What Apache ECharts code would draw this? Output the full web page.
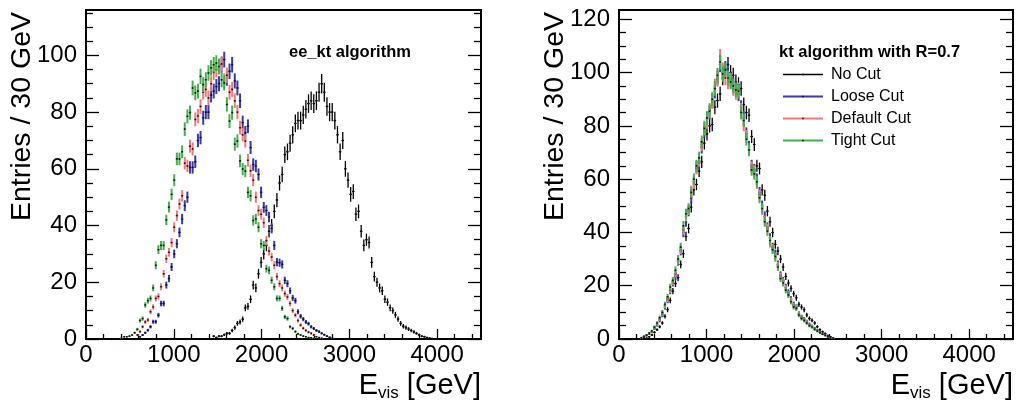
<!DOCTYPE html>
<html><head><meta charset="utf-8">
<script src="https://cdn.jsdelivr.net/npm/echarts@6/dist/echarts.min.js"></script>
<style>html,body{margin:0;padding:0;background:#fff}#c{width:1016px;height:402px}</style>
</head><body><div id="c"></div>
<script>
// ---------------- data ----------------
const BIN = 30; // GeV per bin
const X_TICKS = [0, 1000, 2000, 3000, 4000];
const LEFT_Y_TICKS = [0, 20, 40, 60, 80, 100];
const RIGHT_Y_TICKS = [0, 20, 40, 60, 80, 100, 120];
const LEGEND_NAMES = ['No Cut', 'Loose Cut', 'Default Cut', 'Tight Cut'];
const LEFT_TITLE = 'ee_kt algorithm';
const RIGHT_TITLE = 'kt algorithm with R=0.7';

// left panel (ee_kt), first bin centre + entries per 30 GeV bin
const leftNoCutStart = 1455;
const leftNoCut = [1,0.5,1,1,1.5,2,2,3,4,5.5, 6,7,11,11.5,14,19,18,23,27,30, 33,38,40,45,49,55,58,65,66,69,
  72,76,77,77,79,81,83,84,83,84, 87,90,87,82,80,80,77,72,66,70, 60,56,51,52,44,45,38,33,35,34,
  27,22,20,18,17,14,13,11,10,8.5, 7,5.5,4.5,4,3.5,3,2.5,2,1.5,1, 0.8,0.5,0.3,0.2];
const leftLooseStart = 615;
const leftLoose = [0.8,1.4,2.2,3.1,4.3,6.1,6.1,8.4,12.5,12.5,19,21.3,25.4,30,33.6,37.6,42.3,47,50,60.5,60.5,62.5,70,71,
  78,80,80,86,87.4,89,90,96.7,98.5,92,94.4,96.7,91,88.5,84,76.3,72.7,75,67.5,61.5,61,58,51.7,46.4,45.3,43,39,33,
  27.1,26.9,26.3,20.7,19.5,17,14.5,13.5,9.6,8,7,6,5.4,4.3,3.7,3,2.6,2,1.5,1,0.6,0.3];
const leftDefaultStart = 585;
const leftDefault = [1.4,2.6,4.3,6,6.7,9.6,11.3,14.3,15,18.4,23,28.3,30.6,34,39.4,43.5,47.6,50.5,62,61,68,67,77.4,78.6,82,
  87,88,85,90,94,95,96,97,91,93,87,88,84,80,74.5,72,69.8,63,59.3,56,50,45.3,44,41,34.7,31,28.9,26,22,19.5,18,16,14.8,
  12.5,10,8.4,6.5,4.9,3.8,3,2.4,2,1.4,0.8,0.5,0.3];
const leftTightStart = 405;
const leftTight = [0.3,0.8,0.8,1,1.4,2.2,3.4,6.5,7.2,12,13.5,14.3,18,26,31.5,33,33,42,46.5,51,56,63.5,63.5,66,74,78.5,
  79.8,88.5,86.8,87.4,92.6,89.7,91.4,93.8,95.6,96.7,97.3,96.1,91.4,90.3,82.7,76.8,79.8,68.7,69.8,62.8,59.9,59.2,
  51.7,50.5,41.8,42.3,39.4,33.6,33,24.8,24.2,20.7,18.4,14.3,14.3,10.8,7.8,7.2,4.3,3.7,2.6,1.8,1.4,1,0.8,0.5,0.4,0.2];

// right panel (kt, R=0.7)
const rightNoCutStart = 315;
const rightNoCut = [0.3,0.8,1.5,2.5,3.5,4.6,6,8.5,11,14.5, 18,20.8,23,28,32,38.5,41.5,49.5,56,58, 63,66.5,73.5,77,80,80.5,87,89.5,92,98,
  101,103,100,99,96.5,95.5,94,88,85,84, 76,73,65,64,56,54,48,44,40,35.5, 33,30,27,23.5,21,19,17,15.5,13,12,
  11,9,7.7,7,6,4.6,3.5,2.7,2,1.3, 0.8,0.4];
const rightLooseStart = 255;
const rightLoose = [0.3,0.8,1.3,1.9,2.6,4,5.3,7,9,12,14.5,18,21,23.5,29,33,40,44,48,53,59,64.5,66,72,78,82.5,85,89.5,93,98,
  103,100,101.5,99,97.5,95.5,94,92,87,83,77,72,65,63.5,60,55,50,46,42,38,34.5,32,28,24,22,19.5,17.5,15,13,12,
  9.5,8.3,7.5,6.5,5.5,4.8,4,3.3,2.6,2,1.5,1,0.6,0.3];
const rightDefaultStart = 255;
const rightDefault = [0.4,0.9,1.4,2,2.8,4.2,5.5,7.5,9.5,12.5,15,18.5,21.5,24.5,29.5,33.5,41,46,48.5,55.5,58.5,64,67,73,79.5,81.5,86,89,95,97.5,
  106,101,98,96.5,97,94,92.5,93.5,86,80.5,76,71,64.5,63,58.5,54,48.5,44.5,41.5,36,34,30.5,27.5,23.5,21.5,19,16.8,14.5,12.5,11.8,
  9.2,8,7.2,6.3,5.2,4.6,3.8,3.1,2.5,1.9,1.4,0.9,0.5,0.3];
const rightTightStart = 255;
const rightTight = [0.5,1,1.5,2.2,3,4.5,6,8,10,13,15.8,19.5,22,25.8,30,34.5,42.5,47,49,55,60,65,68,74,79,83,85.5,90,94,99,
  104,99.5,101,98,96.5,95,93.5,93,85,82,75,71,63.5,62,59,53,49,44,40.5,37,33.5,31,27,22.7,21,18.3,16.5,14,12,11.5,
  9,7.7,7,6,5,4.5,3.6,3,2.4,1.8,1.3,0.8,0.5,0.3];

// ---------------- style ----------------
const FONT = '"Liberation Sans", Arial, Helvetica, sans-serif';
const COLORS = { nocut: '#000000', loose: '#3a3aa8', def: '#f07a7a', tight: '#45b04f' };

function pts(start, vals) { return vals.map((v, i) => [start + i * BIN, v]); }

function makeRender(color, lw, errScale) {
  return function (params, api) {
    const x = api.value(0), v = api.value(1);
    const e = errScale * Math.sqrt(v);
    const pL = api.coord([x - BIN / 2, v]), pR = api.coord([x + BIN / 2, v]);
    const pT = api.coord([x, v + e]), pB = api.coord([x, Math.max(0, v - e)]);
    const c = api.coord([x, v]);
    return {
      type: 'group', children: [
        { type: 'line', shape: { x1: pL[0], y1: pL[1], x2: pR[0], y2: pR[1] }, style: { stroke: color, lineWidth: 1 } },
        { type: 'line', shape: { x1: pT[0], y1: pT[1], x2: pB[0], y2: pB[1] }, style: { stroke: color, lineWidth: lw } },
        { type: 'rect', shape: { x: c[0] - 0.8, y: c[1] - 0.8, width: 1.6, height: 1.6 }, style: { fill: '#111' } }
      ]
    };
  };
}

function series(name, grid, data, color, lw, errScale) {
  return {
    type: 'custom', name, xAxisIndex: grid * 2, yAxisIndex: grid * 4, clip: true,
    renderItem: makeRender(color, lw, errScale), data, encode: { x: 0, y: 1 }, animation: false
  };
}

function range(a, b, s, skip) { const r = []; for (let v = a; v <= b + 1e-9; v += s) { if (!skip || Math.abs(v % skip) > 1e-9) r.push(v); } return r; }
const plain = v => String(v);

function xAxes(grid) {
  const base = { gridIndex: grid, type: 'value', min: 0, max: 4500, position: 'bottom',
    axisLine: { show: false }, splitLine: { show: false } };
  return [
    Object.assign({}, base, {
      axisTick: { show: true, inside: true, length: 10, lineStyle: { color: '#000', width: 1.3 }, customValues: X_TICKS },
      axisLabel: { show: true, customValues: X_TICKS, formatter: plain, margin: 4, color: '#000', fontSize: 24, fontFamily: FONT }
    }),
    Object.assign({}, base, {
      axisTick: { show: true, inside: true, length: 5, lineStyle: { color: '#000', width: 1.3 }, customValues: range(200, 4400, 200, 1000) },
      axisLabel: { show: false }
    })
  ];
}

function yAxes(grid, max, ticks) {
  const base = { gridIndex: grid, type: 'value', min: 0, max, axisLine: { show: false }, splitLine: { show: false } };
  const minor = range(5, max, 5, 20);
  const tickStyle = { color: '#000', width: 1.3 };
  return [
    Object.assign({}, base, { position: 'left',
      axisTick: { show: true, inside: true, length: 13, lineStyle: tickStyle, customValues: ticks },
      axisLabel: { show: true, customValues: ticks, formatter: plain, margin: 9, color: '#000', fontSize: 24, fontFamily: FONT } }),
    Object.assign({}, base, { position: 'left',
      axisTick: { show: true, inside: true, length: 7, lineStyle: tickStyle, customValues: minor }, axisLabel: { show: false } }),
    Object.assign({}, base, { position: 'right',
      axisTick: { show: true, inside: true, length: 13, lineStyle: tickStyle, customValues: ticks }, axisLabel: { show: false } }),
    Object.assign({}, base, { position: 'right',
      axisTick: { show: true, inside: true, length: 7, lineStyle: tickStyle, customValues: minor }, axisLabel: { show: false } })
  ];
}

// text measuring for the x-axis title pieces
const mctx = document.createElement('canvas').getContext('2d');
function tw(text, font) { mctx.font = font; return mctx.measureText(text).width; }

const TITLE_FONT = '29px ' + FONT;
const SUB_FONT = '17px ' + FONT;
function xTitle(right) {
  const w1 = tw(' [GeV]', TITLE_FONT), w2 = tw('vis', SUB_FONT);
  return [
    { type: 'text', x: right, y: 386, style: { text: ' [GeV]', font: TITLE_FONT, fill: '#000', textAlign: 'right', textVerticalAlign: 'middle' } },
    { type: 'text', x: right - w1, y: 393, style: { text: 'vis', font: SUB_FONT, fill: '#000', textAlign: 'right', textVerticalAlign: 'middle' } },
    { type: 'text', x: right - w1 - w2, y: 386, style: { text: 'E', font: TITLE_FONT, fill: '#000', textAlign: 'right', textVerticalAlign: 'middle' } }
  ];
}
function yTitle(x) {
  return { type: 'text', x, y: 12, rotation: Math.PI / 2,
    style: { text: 'Entries / 30 GeV', font: '28.5px ' + FONT, fill: '#000', textAlign: 'right', textVerticalAlign: 'middle' } };
}

const legendColors = [COLORS.nocut, COLORS.loose, COLORS.def, COLORS.tight];
const legendGraphics = [];
LEGEND_NAMES.forEach((n, i) => {
  const y = 74.5 + i * 22;
  legendGraphics.push({ type: 'line', shape: { x1: 783, y1: y, x2: 823, y2: y }, style: { stroke: legendColors[i], lineWidth: i === 0 ? 1.3 : 2 } });
  legendGraphics.push({ type: 'rect', shape: { x: 802.2, y: y - 0.8, width: 1.6, height: 1.6 }, style: { fill: '#111' } });
  legendGraphics.push({ type: 'text', x: 831, y: y + 0.5, style: { text: n, font: '16px ' + FONT, fill: '#000', textAlign: 'left', textVerticalAlign: 'middle' } });
});

const chart = echarts.init(document.getElementById('c'), null, { renderer: 'canvas' });
chart.setOption({
  backgroundColor: '#fff',
  animation: false,
  grid: [
    { left: 86, top: 10, width: 395, height: 329, show: true, borderColor: '#000', borderWidth: 2, backgroundColor: 'transparent' },
    { left: 619, top: 10, width: 394, height: 329, show: true, borderColor: '#000', borderWidth: 2, backgroundColor: 'transparent' }
  ],
  xAxis: [...xAxes(0), ...xAxes(1)],
  yAxis: [...yAxes(0, 116, LEFT_Y_TICKS), ...yAxes(1, 123.5, RIGHT_Y_TICKS)],
  series: [
    series('No Cut', 0, pts(leftNoCutStart, leftNoCut), COLORS.nocut, 1.3, 0.36),
    series('Loose Cut', 0, pts(leftLooseStart, leftLoose), COLORS.loose, 2, 0.28),
    series('Default Cut', 0, pts(leftDefaultStart, leftDefault), COLORS.def, 2, 0.28),
    series('Tight Cut', 0, pts(leftTightStart, leftTight), COLORS.tight, 2, 0.28),
    series('No Cut', 1, pts(rightNoCutStart, rightNoCut), COLORS.nocut, 1.3, 0.28),
    series('Loose Cut', 1, pts(rightLooseStart, rightLoose), COLORS.loose, 2, 0.28),
    series('Default Cut', 1, pts(rightDefaultStart, rightDefault), COLORS.def, 2, 0.28),
    series('Tight Cut', 1, pts(rightTightStart, rightTight), COLORS.tight, 2, 0.28)
  ],
  graphic: [
    yTitle(22), yTitle(555),
    ...xTitle(481), ...xTitle(1013),
    { type: 'text', x: 289, y: 52, style: { text: LEFT_TITLE, font: 'bold 16.5px ' + FONT, fill: '#000', textAlign: 'left', textVerticalAlign: 'middle' } },
    { type: 'text', x: 779, y: 52, style: { text: RIGHT_TITLE, font: 'bold 16.5px ' + FONT, fill: '#000', textAlign: 'left', textVerticalAlign: 'middle' } },
    ...legendGraphics
  ]
});
</script>
</body></html>
